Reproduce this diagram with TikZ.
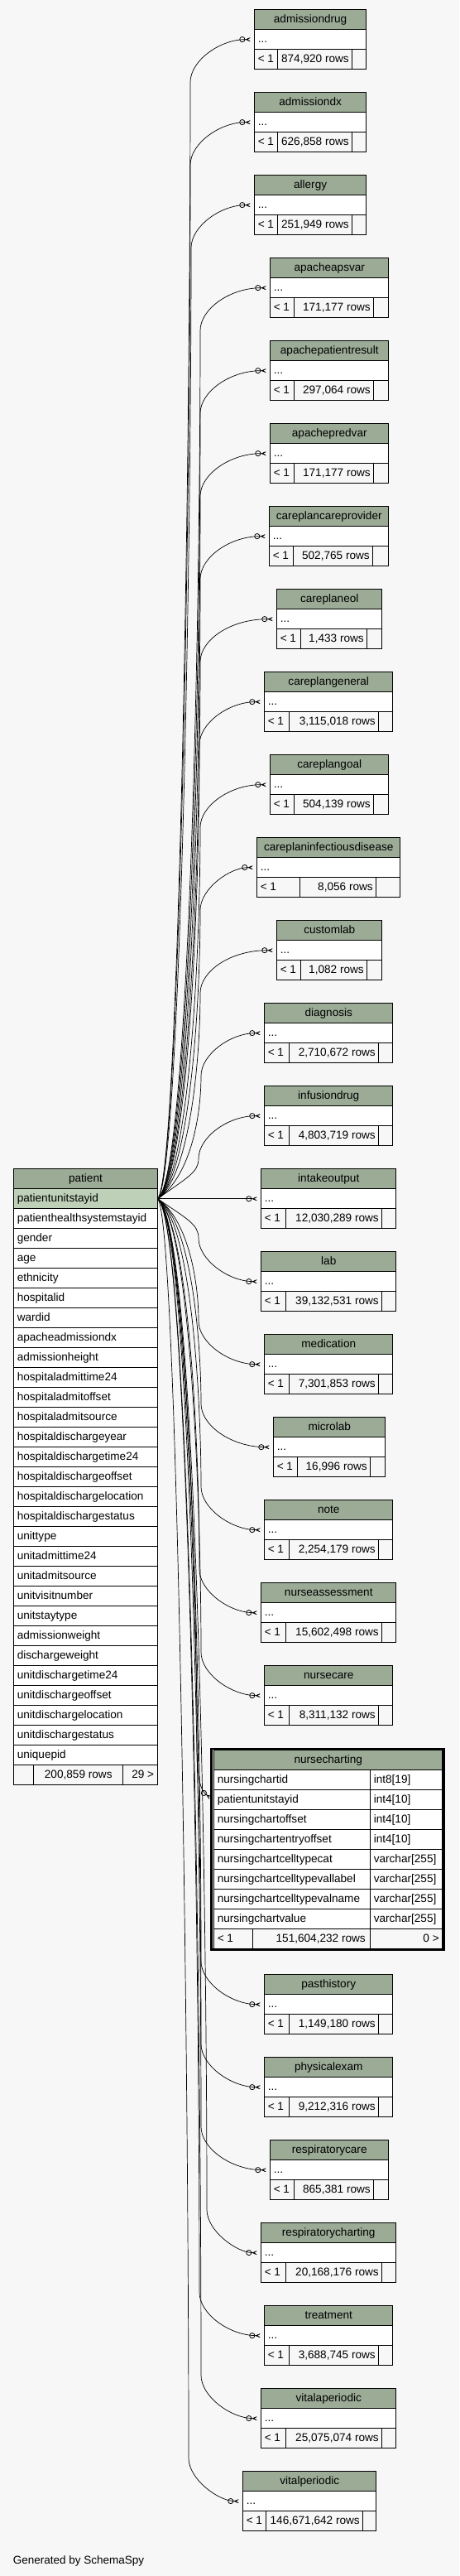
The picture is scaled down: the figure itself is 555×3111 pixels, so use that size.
\documentclass[tikz,border=0pt]{standalone}
\usepackage{fontspec}
\setmainfont{Liberation Sans}
\usetikzlibrary{arrows.meta}

\definecolor{pagebg}{HTML}{F7F7F7}
\definecolor{headgreen}{HTML}{9BAB96}
\definecolor{keygreen}{HTML}{BED1B8}
\newcommand{\tabfont}{\fontsize{13.6}{16}\selectfont}

\tikzset{
  cell/.style={draw, line width=0.9pt, anchor=north west, minimum height=24pt,
    inner xsep=4pt, inner ysep=0pt, text height=10pt, text depth=3pt, font=\tabfont},
  headcell/.style={cell, fill=headgreen},
  bodycell/.style={cell, fill=white},
  footcell/.style={cell, fill=pagebg},
  fk/.style={line width=0.7pt,
    -{Circle[open,length=7pt,line width=0.8pt] Stealth[reversed,length=11pt,width=9pt,inset=8pt]}}
}

\begin{document}
\begin{tikzpicture}[x=1pt, y=-1pt]
\fill[pagebg] (0,0) rectangle (555,3111);
\useasboundingbox (0,0) rectangle (555,3111);

\node[headcell, minimum width=173.4pt] (patient) at (16.3,1411.3) {patient};
\foreach \col [count=\i] in {patientunitstayid, patienthealthsystemstayid, gender, age, ethnicity,
  hospitalid, wardid, apacheadmissiondx, admissionheight, hospitaladmittime24, hospitaladmitoffset,
  hospitaladmitsource, hospitaldischargeyear, hospitaldischargetime24, hospitaldischargeoffset,
  hospitaldischargelocation, hospitaldischargestatus, unittype, unitadmittime24, unitadmitsource,
  unitvisitnumber, unitstaytype, admissionweight, dischargeweight, unitdischargetime24,
  unitdischargeoffset, unitdischargelocation, unitdischargestatus, uniquepid} {
  \ifnum\i=1 \def\rowfill{keygreen}\else\def\rowfill{white}\fi
  \node[cell, fill=\rowfill] (p-\col) at (16.3,1411.3+24*\i) {\makebox[165.4pt][l]{\col}};
}
\node[footcell, minimum width=24pt] (p-par) at (16.3,2131.3) {};
\node[footcell, minimum width=108pt] (p-rows) at (40.3,2131.3) {200,859 rows};
\node[footcell] (p-kids) at (148.3,2131.3) {\makebox[33.4pt][r]{29 >}};

\foreach \tn/\ttop/\tl/\tr/\ca/\cb/\trows in {
  admissiondrug/11.3/307.3/442/334.7/425.3/{874,920 rows},
  admissiondx/111.3/307.3/442/334.7/425.3/{626,858 rows},
  allergy/211.3/307.3/442/334.7/425.3/{251,949 rows},
  apacheapsvar/311.3/326.3/469.3/355.3/451.3/{171,177 rows},
  apachepatientresult/411.3/326.3/469.3/355.3/451.3/{297,064 rows},
  apachepredvar/511.3/326.3/469.3/355.3/451.3/{171,177 rows},
  careplancareprovider/611.3/325.3/469.3/354.3/450.3/{502,765 rows},
  careplaneol/711.3/334.3/461.3/363.3/443.3/{1,433 rows},
  careplangeneral/811.3/319.3/474.3/349.3/457.3/{3,115,018 rows},
  careplangoal/911.3/326.3/469.3/355.3/451.3/{504,139 rows},
  careplaninfectiousdisease/1011.3/310.3/483.3/362.3/454.3/{8,056 rows},
  customlab/1111.3/334.3/461.3/363.3/443.3/{1,082 rows},
  diagnosis/1211.3/319.3/474.3/349.3/457.3/{2,710,672 rows},
  infusiondrug/1311.3/319.3/474.3/349.3/457.3/{4,803,719 rows},
  intakeoutput/1411.3/315.3/478.3/345.3/461.3/{12,030,289 rows},
  lab/1511.3/315.3/478.3/345.3/461.3/{39,132,531 rows},
  medication/1611.3/319.3/474.3/349.3/457.3/{7,301,853 rows},
  microlab/1711.3/330.3/465.3/359.3/447.3/{16,996 rows},
  note/1811.3/319.3/474.3/349.3/457.3/{2,254,179 rows},
  nurseassessment/1911.3/315.3/478.3/345.3/461.3/{15,602,498 rows},
  nursecare/2011.3/319.3/474.3/349.3/457.3/{8,311,132 rows},
  pasthistory/2384.3/319.3/474.3/349.3/457.3/{1,149,180 rows},
  physicalexam/2484.3/319.3/474.3/349.3/457.3/{9,212,316 rows},
  respiratorycare/2584.3/326.3/469.3/355.3/451.3/{865,381 rows},
  respiratorycharting/2684.3/315.3/478.3/345.3/461.3/{20,168,176 rows},
  treatment/2784.3/319.3/474.3/349.3/457.3/{3,688,745 rows},
  vitalaperiodic/2884.3/315.3/478.3/345.3/461.3/{25,075,074 rows},
  vitalperiodic/2984.3/293.3/454.3/321.3/438.3/{146,671,642 rows}} {
  \pgfmathsetmacro\tw{\tr-\tl}
  \pgfmathsetmacro\tin{\tr-\tl-8}
  \pgfmathsetmacro\wa{\ca-\tl-8}
  \pgfmathsetmacro\wb{\cb-\ca-8}
  \pgfmathsetmacro\wc{\tr-\cb-8}
  \node[headcell, minimum width=\tw pt] (\tn-head) at (\tl,\ttop) {\tn};
  \node[bodycell] (\tn) at (\tl,\ttop+24) {\makebox[\tin pt][l]{...}};
  \node[footcell] (\tn-par) at (\tl,\ttop+48) {\makebox[\wa pt][l]{< 1}};
  \node[footcell] (\tn-rows) at (\ca,\ttop+48) {\makebox[\wb pt][r]{\trows}};
  \node[footcell] (\tn-kids) at (\cb,\ttop+48) {\makebox[\wc pt]{}};
}

\draw[line width=2.4pt] (255.5,2111.7) rectangle (536.5,2354.5);
\node[headcell, minimum width=276pt] (nursecharting) at (258.3,2113.3) {nursecharting};
\foreach \col/\ctype [count=\i] in {nursingchartid/{int8[19]}, patientunitstayid/{int4[10]},
  nursingchartoffset/{int4[10]}, nursingchartentryoffset/{int4[10]},
  nursingchartcelltypecat/{varchar[255]}, nursingchartcelltypevallabel/{varchar[255]},
  nursingchartcelltypevalname/{varchar[255]}, nursingchartvalue/{varchar[255]}} {
  \node[bodycell] (nc-\col) at (258.3,2113.3+24*\i) {\makebox[181pt][l]{\col}};
  \node[bodycell] (nc-\col-type) at (447.3,2113.3+24*\i) {\makebox[79pt][l]{\ctype}};
}
\node[footcell] (nc-par) at (258.3,2329.3) {\makebox[39pt][l]{< 1}};
\node[footcell] (nc-rows) at (305.3,2329.3) {\makebox[134pt][r]{151,604,232 rows\hspace{2pt}}};
\node[footcell] (nc-kids) at (447.3,2329.3) {\makebox[79pt][r]{0 >}};

\foreach \tn/\ty/\bx in {admissiondrug/47.3/230, admissiondx/147.3/230, allergy/247.3/231,
  apacheapsvar/347.3/242, apachepatientresult/447.3/242, apachepredvar/547.3/242,
  careplancareprovider/647.3/242, careplaneol/747.3/242, careplangeneral/847.3/241,
  careplangoal/947.3/242, careplaninfectiousdisease/1047.3/242, customlab/1147.3/242,
  diagnosis/1247.3/243, infusiondrug/1347.3/240} {
  \pgfmathsetmacro\wy{\ty+52}
  \pgfmathsetmacro\cy{\wy+0.35*(1447.3-\wy)}
  \pgfmathsetmacro\ax{\bx-14}
  \draw[fk] (p-patientunitstayid.east) .. controls (\ax,1422) and (\bx,\cy) .. (\bx,\wy)
    .. controls (\bx,\ty+26) and (\bx+36,\ty) .. (\tn.west);
}
\draw[fk] (p-patientunitstayid.east) -- (intakeoutput.west);
\foreach \tn/\ty/\bx in {lab/1547.3/240, medication/1647.3/240, microlab/1747.3/243,
  note/1847.3/243, nurseassessment/1947.3/241, nursecare/2047.3/243,
  pasthistory/2420.3/243, physicalexam/2520.3/243, respiratorycare/2620.3/243,
  respiratorycharting/2720.3/250, treatment/2820.3/241, vitalaperiodic/2920.3/243,
  vitalperiodic/3020.3/228} {
  \pgfmathsetmacro\wy{\ty-52}
  \pgfmathsetmacro\cy{\wy-0.35*(\wy-1447.3)}
  \pgfmathsetmacro\ax{\bx-14}
  \draw[fk] (p-patientunitstayid.east) .. controls (\ax,1472) and (\bx,\cy) .. (\bx,\wy)
    .. controls (\bx,\ty-26) and (\bx+36,\ty) .. (\tn.west);
}
\draw[fk] (p-patientunitstayid.east) .. controls (224,1480) and (238,1900) .. (238,2110)
  .. controls (238,2150) and (243,2163) .. (nc-patientunitstayid.west);

\node[anchor=base west, inner sep=0pt, font=\fontsize{13.5}{16}\selectfont] (credit)
  at (15.7,3096.7) {Generated by SchemaSpy};
\end{tikzpicture}
\end{document}
